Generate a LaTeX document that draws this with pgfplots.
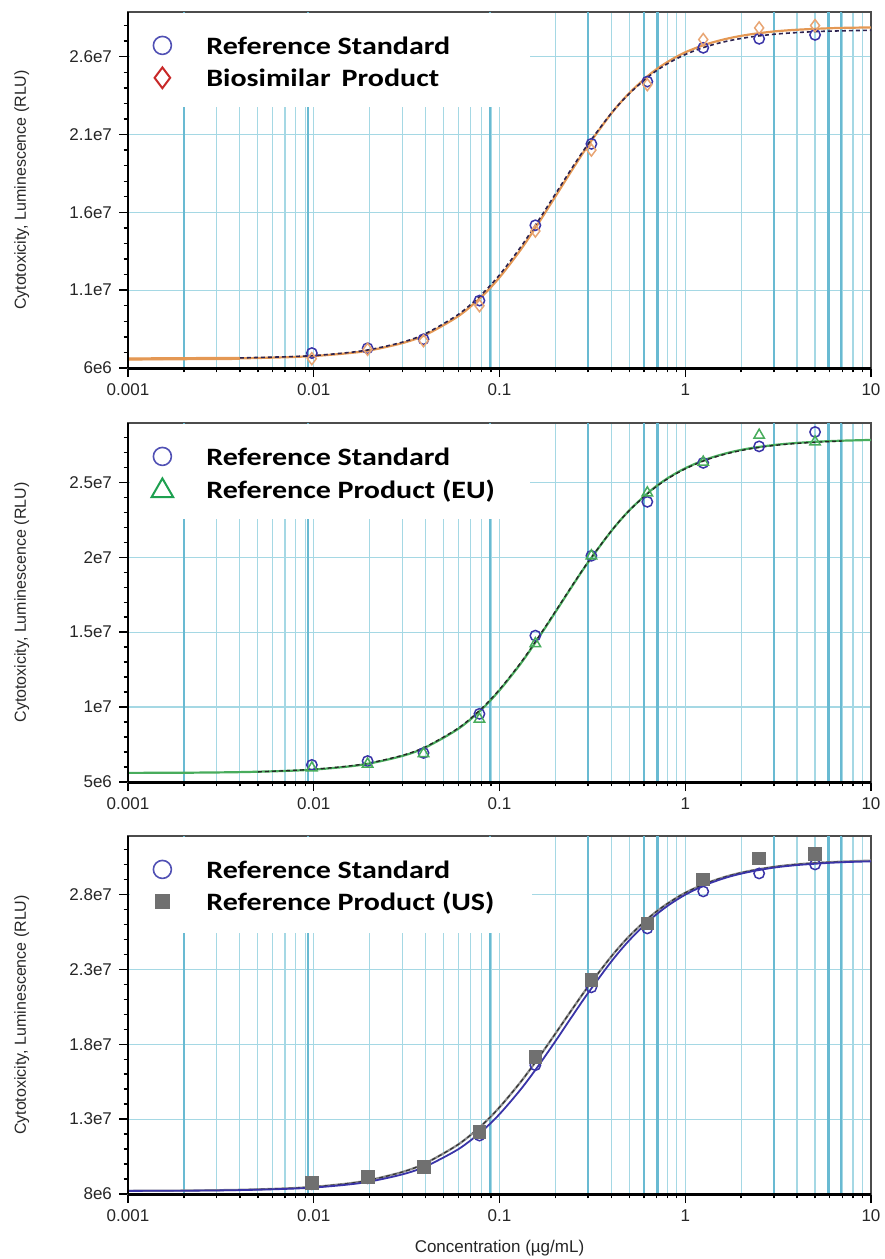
\documentclass[border=0pt]{standalone}
\usepackage{fontspec}
\setmainfont{Liberation Sans}
\newfontfamily\legfont[FakeStretch=1.2]{Carlito}
\usepackage{pgfplots}
\pgfplotsset{compat=1.18}

\definecolor{gridA}{RGB}{165,216,228}
\definecolor{gridB}{RGB}{105,186,210}
\definecolor{refblue}{RGB}{58,52,168}
\definecolor{legblue}{RGB}{80,80,180}
\definecolor{bioorange}{RGB}{232,165,115}
\definecolor{curveorange}{RGB}{228,152,84}
\definecolor{legred}{RGB}{200,40,40}
\definecolor{eugreen}{RGB}{72,172,92}
\definecolor{leggreen}{RGB}{30,160,80}
\definecolor{usgrey}{RGB}{112,112,112}
\definecolor{darkline}{RGB}{45,35,80}

% heavier vertical grid lines of the original plot
\newcommand{\thickgrid}[2]{%
  \pgfplotsinvokeforeach{0.002,0.0093,0.089,0.3,0.6,0.71,3,5.9,6.9}{%
    \draw[gridB, line width=1.2pt] (axis cs:##1,#1) -- (axis cs:##1,#2);}}

\pgfplotsset{
  every axis/.append style={
    xmode=log,
    scale only axis, width=371.5pt,
    xmin=0.001, xmax=10,
    xtick={0.001,0.01,0.1,1,10},
    xticklabels={0.001,0.01,0.1,1,10},
    minor xtick={0.002,0.003,0.004,0.005,0.006,0.007,0.008,0.009,
                 0.02,0.03,0.04,0.05,0.06,0.07,0.08,0.09,
                 0.2,0.3,0.4,0.5,0.6,0.7,0.8,0.9,
                 2,3,4,5,6,7,8,9},
    xmajorgrids=true, xminorgrids=true, ymajorgrids=true,
    major grid style={gridA, line width=0.6pt},
    minor grid style={gridA, line width=0.6pt},
    scaled y ticks=false,
    xtick pos=left, ytick pos=left,
    tick align=outside,
    major tick length=4.5pt, minor tick length=2.2pt,
    tick style={black, line width=0.7pt},
    axis line style={draw=black!70, line width=0.7pt},
    tick label style={font=\fontsize{8.5}{10}\selectfont, text=black!85},
    ylabel={Cytotoxicity, Luminescence (RLU)},
    ylabel style={at={(axis description cs:-0.143,0.5)}, anchor=center, font=\fontsize{8}{10}\selectfont, text=black!85},
    xlabel style={at={(axis description cs:0.5,-0.151)}, anchor=center, font=\fontsize{8.5}{10}\selectfont, text=black!85},
    clip=false,
    legend style={at={(axis description cs:0,1)}, anchor=north west, xshift=9pt, yshift=-11.5pt,
      draw=none, fill=none, inner xsep=0pt, inner ysep=0pt, row sep=6pt, column sep=0pt,
      font=\legfont\bfseries\fontsize{12.5}{15}\selectfont,
      nodes={inner sep=0pt, text depth=0pt}},
    legend cell align=left,
  },
}

\begin{document}
\begin{tikzpicture}
\useasboundingbox (0,0) rectangle (442pt,-629.5pt);

% ---------------- top: biosimilar ----------------
\begin{axis}[at={(64pt,-184pt)}, anchor=south west, height=178pt,
  ymin=6e6, ymax=2.887e7,
  ytick={6e6,1.1e7,1.6e7,2.1e7,2.6e7},
  yticklabels={6e6,1.1e7,1.6e7,2.1e7,2.6e7},
  minor ytick={7e6,8e6,9e6,1e7,1.2e7,1.3e7,1.4e7,1.5e7,1.7e7,1.8e7,1.9e7,2e7,2.2e7,2.3e7,2.4e7,2.5e7,2.7e7,2.8e7},
]
\thickgrid{6e6}{2.887e7}
\fill[white] (rel axis cs:0.003,0.732) rectangle (rel axis cs:0.541,0.996);
\addplot[curveorange, line width=1.6pt, forget plot] coordinates {(0.001,6.58e6)(0.004,6.62e6)};
\addplot[curveorange, line width=1.1pt, smooth, forget plot] coordinates {
(0.001,6.58e6)(0.002,6.59e6)(0.004,6.62e6)(0.007,6.69e6)(0.01,6.77e6)(0.015,6.94e6)
(0.02,7.13e6)(0.03,7.60e6)(0.04,8.13e6)(0.06,9.33e6)(0.08,10.58e6)(0.1,11.82e6)
(0.13,13.60e6)(0.16,15.20e6)(0.2,17.02e6)(0.25,18.86e6)(0.3,20.30e6)(0.4,22.35e6)
(0.5,23.66e6)(0.65,24.90e6)(0.8,25.65e6)(1,26.28e6)(1.3,26.80e6)(1.7,27.17e6)
(2.2,27.42e6)(3,27.62e6)(4,27.73e6)(5.5,27.81e6)(7,27.85e6)(10,27.88e6)};
\addplot[darkline, line width=0.8pt, smooth, dash pattern=on 2pt off 1.5pt, forget plot] coordinates {
(0.004,6.65e6)(0.007,6.72e6)(0.01,6.80e6)(0.015,6.98e6)
(0.02,7.18e6)(0.03,7.66e6)(0.04,8.21e6)(0.06,9.44e6)(0.08,10.72e6)(0.1,11.98e6)
(0.13,13.77e6)(0.16,15.37e6)(0.2,17.18e6)(0.25,18.99e6)(0.3,20.39e6)(0.4,22.37e6)
(0.5,23.63e6)(0.65,24.82e6)(0.8,25.54e6)(1,26.14e6)(1.3,26.65e6)(1.7,27.01e6)
(2.2,27.25e6)(3,27.44e6)(4,27.55e6)(5.5,27.63e6)(7,27.66e6)(10,27.70e6)};
\addplot[only marks, mark=o, mark size=2.6pt, mark options={draw=refblue, line width=0.75pt},
  legend image code/.code={\path[draw=none, fill=none] (0pt,-5pt) rectangle (30pt,5pt);
    \draw[legblue, line width=0.8pt, mark=o, mark size=4.5pt, mark options={draw=legblue, line width=0.8pt}] plot coordinates {(8pt,0pt)};}]
coordinates {
(0.00977,6.96e6)(0.0195,7.27e6)(0.039,7.85e6)(0.078,10.33e6)(0.156,15.17e6)
(0.3125,20.4e6)(0.625,24.4e6)(1.25,26.57e6)(2.5,27.15e6)(5,27.4e6)};
\addlegendentry{Reference Standard}
\addplot[only marks, mark=diamond, mark size=3pt, mark options={draw=bioorange, line width=0.75pt},
  legend image code/.code={\path[draw=none, fill=none] (0pt,-5pt) rectangle (30pt,5pt);
    \draw[legred, line width=1pt, mark=diamond, mark size=5.2pt, mark options={draw=legred, line width=1pt}] plot coordinates {(8pt,0pt)};}]
coordinates {
(0.00977,6.6e6)(0.0195,7.2e6)(0.039,7.75e6)(0.078,10.0e6)(0.156,14.8e6)
(0.3125,20.0e6)(0.625,24.2e6)(1.25,27.1e6)(2.5,27.85e6)(5,28.0e6)};
\addlegendentry{Biosimilar\, Product}
\draw[black, line width=1.5pt] (rel axis cs:0,0) -- (rel axis cs:1,0);
\draw[black, line width=1pt] (rel axis cs:0,0) -- (rel axis cs:0,1);
\end{axis}

% ---------------- middle: EU ----------------
\begin{axis}[at={(64pt,-391pt)}, anchor=south west, height=179.5pt,
  ymin=5e6, ymax=2.896e7,
  ytick={5e6,1e7,1.5e7,2e7,2.5e7},
  yticklabels={5e6,1e7,1.5e7,2e7,2.5e7},
  minor ytick={6e6,7e6,8e6,9e6,1.1e7,1.2e7,1.3e7,1.4e7,1.6e7,1.7e7,1.8e7,1.9e7,2.1e7,2.2e7,2.3e7,2.4e7,2.6e7,2.7e7,2.8e7},
]
\thickgrid{5e6}{2.896e7}
\fill[white] (rel axis cs:0.003,0.732) rectangle (rel axis cs:0.541,0.996);
\addplot[eugreen, line width=1.1pt, smooth, forget plot] coordinates {
(0.001,5.61e6)(0.002,5.62e6)(0.004,5.66e6)(0.007,5.74e6)(0.01,5.83e6)(0.015,6.02e6)
(0.02,6.24e6)(0.03,6.74e6)(0.04,7.31e6)(0.06,8.55e6)(0.08,9.84e6)(0.1,11.12e6)
(0.13,12.90e6)(0.16,14.51e6)(0.2,16.34e6)(0.25,18.20e6)(0.3,19.66e6)(0.4,21.75e6)
(0.5,23.13e6)(0.65,24.44e6)(0.8,25.26e6)(1,25.94e6)(1.3,26.54e6)(1.7,26.97e6)
(2.2,27.26e6)(3,27.49e6)(4,27.63e6)(5.5,27.73e6)(7,27.78e6)(10,27.83e6)};
\addplot[black!85, line width=0.7pt, smooth, dash pattern=on 2pt off 1.5pt, forget plot] coordinates {
(0.005,5.68e6)(0.007,5.75e6)(0.01,5.85e6)(0.015,6.05e6)
(0.02,6.27e6)(0.03,6.78e6)(0.04,7.35e6)(0.06,8.60e6)(0.08,9.90e6)(0.1,11.18e6)
(0.13,12.96e6)(0.16,14.57e6)(0.2,16.39e6)(0.25,18.24e6)(0.3,19.69e6)(0.4,21.76e6)
(0.5,23.12e6)(0.65,24.41e6)(0.8,25.22e6)(1,25.90e6)(1.3,26.50e6)(1.7,26.93e6)
(2.2,27.22e6)(3,27.46e6)(4,27.60e6)(5.5,27.70e6)(7,27.76e6)};
\addplot[only marks, mark=o, mark size=2.6pt, mark options={draw=refblue, line width=0.75pt},
  legend image code/.code={\path[draw=none, fill=none] (0pt,-5pt) rectangle (30pt,5pt);
    \draw[legblue, line width=0.8pt, mark=o, mark size=4.5pt, mark options={draw=legblue, line width=0.8pt}] plot coordinates {(8pt,0pt)};}]
coordinates {
(0.00977,6.14e6)(0.0195,6.4e6)(0.039,6.94e6)(0.078,9.55e6)(0.156,14.77e6)
(0.3125,20.1e6)(0.625,23.7e6)(1.25,26.3e6)(2.5,27.4e6)(5,28.36e6)};
\addlegendentry{Reference Standard}
\addplot[only marks, mark=triangle, mark size=3pt, mark options={draw=eugreen, line width=0.75pt},
  legend image code/.code={\path[draw=none, fill=none] (0pt,-5pt) rectangle (30pt,5pt);
    \draw[leggreen, line width=1pt, mark=triangle, mark size=6.2pt, mark options={draw=leggreen, line width=1pt}] plot coordinates {(8pt,-1pt)};}]
coordinates {
(0.00977,5.94e6)(0.0195,6.2e6)(0.039,6.9e6)(0.078,9.2e6)(0.156,14.24e6)
(0.3125,20.1e6)(0.625,24.3e6)(1.25,26.35e6)(2.5,28.15e6)(5,27.7e6)};
\addlegendentry{Reference Product (EU)}
\draw[black, line width=1.5pt] (rel axis cs:0,0) -- (rel axis cs:1,0);
\draw[black, line width=1pt] (rel axis cs:0,0) -- (rel axis cs:0,1);
\end{axis}

% ---------------- bottom: US ----------------
\begin{axis}[at={(64pt,-597pt)}, anchor=south west, height=179pt,
  ymin=8e6, ymax=3.19e7,
  ytick={8e6,1.3e7,1.8e7,2.3e7,2.8e7},
  yticklabels={8e6,1.3e7,1.8e7,2.3e7,2.8e7},
  minor ytick={9e6,1e7,1.1e7,1.2e7,1.4e7,1.5e7,1.6e7,1.7e7,1.9e7,2e7,2.1e7,2.2e7,2.4e7,2.5e7,2.6e7,2.7e7,2.9e7,3e7,3.1e7},
  xlabel={Concentration (µg/mL)},
]
\thickgrid{8e6}{3.19e7}
\fill[white] (rel axis cs:0.003,0.729) rectangle (rel axis cs:0.544,0.996);
\addplot[usgrey!80, line width=1.1pt, smooth, forget plot] coordinates {
(0.001,8.21e6)(0.002,8.23e6)(0.004,8.28e6)(0.007,8.37e6)(0.01,8.48e6)(0.015,8.69e6)
(0.02,8.93e6)(0.03,9.47e6)(0.04,10.06e6)(0.06,11.31e6)(0.08,12.57e6)(0.1,13.79e6)
(0.13,15.48e6)(0.16,16.99e6)(0.2,18.71e6)(0.25,20.46e6)(0.3,21.85e6)(0.4,23.86e6)
(0.5,25.22e6)(0.65,26.54e6)(0.8,27.38e6)(1,28.11e6)(1.3,28.75e6)(1.7,29.23e6)
(2.2,29.56e6)(3,29.84e6)(4,30.01e6)(5.5,30.13e6)(7,30.19e6)(10,30.26e6)};
\addplot[black!80, line width=0.6pt, smooth, dash pattern=on 2pt off 1.5pt, forget plot] coordinates {
(0.004,8.28e6)(0.007,8.37e6)(0.01,8.48e6)(0.015,8.69e6)
(0.02,8.93e6)(0.03,9.47e6)(0.04,10.06e6)(0.06,11.31e6)(0.08,12.57e6)(0.1,13.79e6)
(0.13,15.48e6)(0.16,16.99e6)(0.2,18.71e6)(0.25,20.46e6)(0.3,21.85e6)(0.4,23.86e6)
(0.5,25.22e6)(0.65,26.54e6)(0.8,27.38e6)(1,28.11e6)(1.3,28.75e6)(1.7,29.23e6)
(2.2,29.56e6)(3,29.84e6)(4,30.01e6)(5.5,30.13e6)(7,30.19e6)};
\addplot[refblue, line width=0.9pt, smooth, forget plot] coordinates {
(0.001,8.21e6)(0.002,8.22e6)(0.004,8.26e6)(0.007,8.34e6)(0.01,8.43e6)(0.015,8.62e6)
(0.02,8.83e6)(0.03,9.31e6)(0.04,9.84e6)(0.06,10.99e6)(0.08,12.17e6)(0.1,13.33e6)
(0.13,14.98e6)(0.16,16.47e6)(0.2,18.20e6)(0.25,19.99e6)(0.3,21.42e6)(0.4,23.52e6)
(0.5,24.94e6)(0.65,26.33e6)(0.8,27.22e6)(1,27.98e6)(1.3,28.66e6)(1.7,29.16e6)
(2.2,29.50e6)(3,29.79e6)(4,29.96e6)(5.5,30.08e6)(7,30.15e6)(10,30.21e6)};
\addplot[only marks, mark=o, mark size=2.6pt, mark options={draw=refblue, line width=0.75pt},
  legend image code/.code={\path[draw=none, fill=none] (0pt,-5pt) rectangle (30pt,5pt);
    \draw[legblue, line width=0.8pt, mark=o, mark size=4.5pt, mark options={draw=legblue, line width=0.8pt}] plot coordinates {(8pt,0pt)};}]
coordinates {
(0.00977,8.65e6)(0.0195,9.05e6)(0.039,9.75e6)(0.078,11.9e6)(0.156,16.6e6)
(0.3125,21.8e6)(0.625,25.73e6)(1.25,28.2e6)(2.5,29.4e6)(5,30.0e6)};
\addlegendentry{Reference Standard}
\addplot[only marks, mark=square*, mark size=3.2pt, mark options={draw=usgrey, fill=usgrey},
  legend image code/.code={\path[draw=none, fill=none] (0pt,-5pt) rectangle (30pt,5pt);
    \draw[usgrey, mark=square*, mark size=3.7pt, mark options={draw=usgrey, fill=usgrey}] plot coordinates {(8pt,0pt)};}]
coordinates {
(0.00977,8.73e6)(0.0195,9.13e6)(0.039,9.8e6)(0.078,12.13e6)(0.156,17.13e6)
(0.3125,22.27e6)(0.625,26.07e6)(1.25,29.0e6)(2.5,30.4e6)(5,30.73e6)};
\addlegendentry{Reference Product (US)}
\draw[black, line width=1.5pt] (rel axis cs:0,0) -- (rel axis cs:1,0);
\draw[black, line width=1pt] (rel axis cs:0,0) -- (rel axis cs:0,1);
\end{axis}
\end{tikzpicture}
\end{document}
